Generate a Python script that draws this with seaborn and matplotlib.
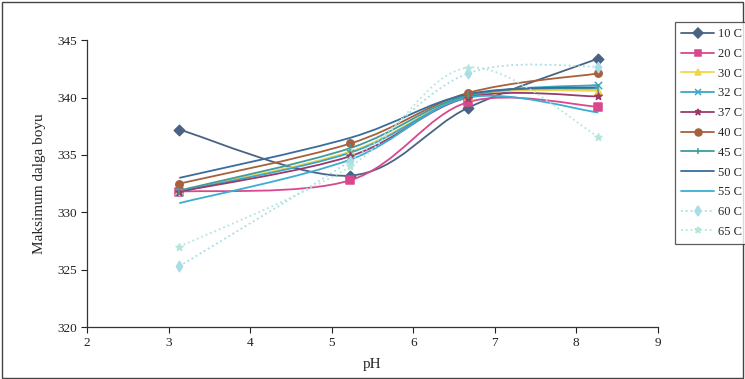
import numpy as np
import pandas as pd
import matplotlib
matplotlib.use("Agg")
import matplotlib.pyplot as plt
import seaborn as sns
from matplotlib.path import Path
from matplotlib.patches import PathPatch, Rectangle
from matplotlib.lines import Line2D

# ── data ──────────────────────────────────────────────────────────────────────
ph = [3.13, 5.23, 6.67, 8.27]

t10 = [337.2, 333.2, 339.1, 343.4]
t20 = [331.8, 332.8, 339.6, 339.2]
t30 = [331.9, 335.3, 340.1, 340.6]
t32 = [331.8, 335.2, 340.1, 341.1]
t37 = [331.8, 334.9, 340.0, 340.1]
t40 = [332.5, 336.0, 340.4, 342.1]
t45 = [331.9, 335.6, 340.2, 340.8]
t50 = [333.0, 336.5, 340.3, 340.9]
t55 = [330.8, 334.6, 340.0, 338.7]
t60 = [325.3, 334.5, 342.1, 342.7]
t65 = [327.0, 334.0, 342.6, 336.6]

labels = ["10 C", "20 C", "30 C", "32 C", "37 C", "40 C", "45 C",
          "50 C", "55 C", "60 C", "65 C"]
series = [t10, t20, t30, t32, t37, t40, t45, t50, t55, t60, t65]

colors = ["#4a6384", "#d8488c", "#f2d44a", "#3aa6c8", "#9a3a6a", "#a8603c",
          "#3e9c9c", "#3a6c9c", "#3aaed2", "#a8dce6", "#b4e6dc"]
markers = ["D", "s", "^", "x", "*", "o", "|", "", "", "d", "*"]
styles = ["-", "-", "-", "-", "-", "-", "-", "-", "-", ":", ":"]

# ── figure ────────────────────────────────────────────────────────────────────
sns.set_style("white")
plt.rcParams["font.family"] = ["Liberation Serif", "DejaVu Serif"]

fig = plt.figure(figsize=(7.45, 3.79), dpi=100)
ax = fig.add_axes([0.117, 0.137, 0.766, 0.757])


def smooth_path(xs, ys):
    # Excel-style smoothed line as cubic Bezier segments
    pts = np.column_stack([xs, ys])
    n = len(pts)
    verts = [pts[0]]
    codes = [Path.MOVETO]
    for i in range(n - 1):
        p0 = pts[i - 1] if i > 0 else pts[i]
        p1 = pts[i]
        p2 = pts[i + 1]
        p3 = pts[i + 2] if i + 2 < n else pts[i + 1]
        c1 = p1 + (p2 - p0) / 6
        c2 = p2 - (p3 - p1) / 6
        verts += [c1, c2, p2]
        codes += [Path.CURVE4] * 3
    return Path(verts, codes)


for lab, ys, c, m, ls in zip(labels, series, colors, markers, styles):
    ax.add_patch(PathPatch(smooth_path(ph, ys), facecolor="none", edgecolor=c,
                           lw=1.3, linestyle=ls, zorder=2))
    if m:
        d = pd.DataFrame({"pH": ph, "val": ys})
        filled = m not in ("x", "|")
        sns.scatterplot(data=d, x="pH", y="val", marker=m, s=28,
                        color=c, edgecolor=c if filled else None,
                        linewidth=1.1, ax=ax, legend=False, zorder=3)

ax.set_xlim(2, 9)
ax.set_ylim(320, 345)
ax.set_xticks(range(2, 10))
ax.set_yticks(range(320, 346, 5))
ax.tick_params(axis="both", direction="out", length=4, width=0.8,
               labelsize=9.5, colors="#222222", left=True, bottom=True)
for sp in ["top", "right"]:
    ax.spines[sp].set_visible(False)
for sp in ["left", "bottom"]:
    ax.spines[sp].set_color("#333333")
    ax.spines[sp].set_linewidth(0.9)
ax.set_xlabel("pH", fontsize=11, labelpad=6)
ax.set_ylabel("Maksimum dalga boyu", fontsize=11, labelpad=8)

handles = [Line2D([0], [0], color=c, marker=m if m else None, linestyle=ls,
                  lw=1.3, markersize=5, markeredgewidth=1.1)
           for c, m, ls in zip(colors, markers, styles)]
leg = fig.legend(handles, labels, loc="upper left",
                 bbox_to_anchor=(675 / 745, 1 - 22 / 379),
                 frameon=True, fontsize=9, handlelength=2.6,
                 handletextpad=0.3, labelspacing=0.62, borderpad=0.5,
                 fancybox=False, borderaxespad=0)
leg.get_frame().set_edgecolor("#333333")
leg.get_frame().set_linewidth(0.9)

fig.add_artist(Rectangle((0.003, 0.003), 0.994, 0.992, transform=fig.transFigure,
                         fill=False, edgecolor="#444444", lw=1.0))

fig.savefig("out.png", dpi=100)
